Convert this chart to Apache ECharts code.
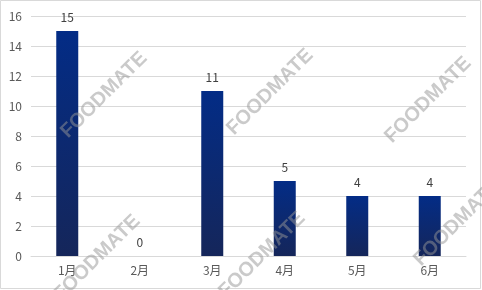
<!DOCTYPE html>
<html>
<head>
<meta charset="utf-8">
<script src="https://cdn.jsdelivr.net/npm/echarts@6/dist/echarts.min.js"></script>
<style>
  html, body { margin: 0; padding: 0; background: #ffffff; }
  #chart { width: 482px; height: 290px; }
</style>
</head>
<body>
<div id="chart"></div>
<script>
// Monthly counts, January to June
const months = ['1月', '2月', '3月', '4月', '5月', '6月'];
const counts = [15, 0, 11, 5, 4, 4];
const yTicks = { min: 0, max: 16, interval: 2 };

// Watermark placements (center x, center y)
const watermarkText = 'FOODMATE';
const watermarkSpots = [
  [104, 95], [270, 92], [428, 100],
  [97, 258], [262, 255], [457, 223]
];

const chart = echarts.init(document.getElementById('chart'), null, { renderer: 'canvas' });

const fontFamily = '"Noto Sans CJK SC", "Liberation Sans", sans-serif';

const watermarks = watermarkSpots.map(function (p) {
  return {
    type: 'text',
    x: p[0],
    y: p[1],
    rotation: Math.PI / 4,
    z: 100,
    silent: true,
    style: {
      text: watermarkText,
      fill: 'rgba(150,150,150,0.5)',
      font: 'bold 20px "Liberation Sans", Arial, sans-serif',
      align: 'center',
      verticalAlign: 'middle'
    }
  };
});

chart.setOption({
  animation: false,
  backgroundColor: '#ffffff',
  grid: { left: 31, right: 16, top: 16, bottom: 34, containLabel: false },
  xAxis: {
    type: 'category',
    data: months,
    axisLine: { show: true, lineStyle: { color: '#d9d9d9', width: 1 } },
    axisTick: { show: false },
    axisLabel: { color: '#595959', fontSize: 12, margin: 8, fontFamily: fontFamily }
  },
  yAxis: {
    type: 'value',
    min: yTicks.min,
    max: yTicks.max,
    interval: yTicks.interval,
    axisLine: { show: false },
    axisTick: { show: false },
    splitLine: { lineStyle: { color: '#d9d9d9', width: 1 } },
    axisLabel: { color: '#595959', fontSize: 12, margin: 9, fontFamily: fontFamily }
  },
  series: [{
    type: 'bar',
    data: counts,
    barWidth: 22,
    itemStyle: {
      color: new echarts.graphic.LinearGradient(0, 0, 0, 1, [
        { offset: 0, color: '#032c86' },
        { offset: 1, color: '#15265a' }
      ])
    },
    label: {
      show: true,
      position: 'top',
      distance: 8,
      color: '#404040',
      fontSize: 12,
      fontFamily: fontFamily
    }
  }],
  graphic: [{
    type: 'rect',
    shape: { x: 0.5, y: 0.5, width: 480, height: 288 },
    style: { fill: 'none', stroke: '#d9d9d9', lineWidth: 1 },
    silent: true,
    z: 0
  }].concat(watermarks)
});
</script>
</body>
</html>
